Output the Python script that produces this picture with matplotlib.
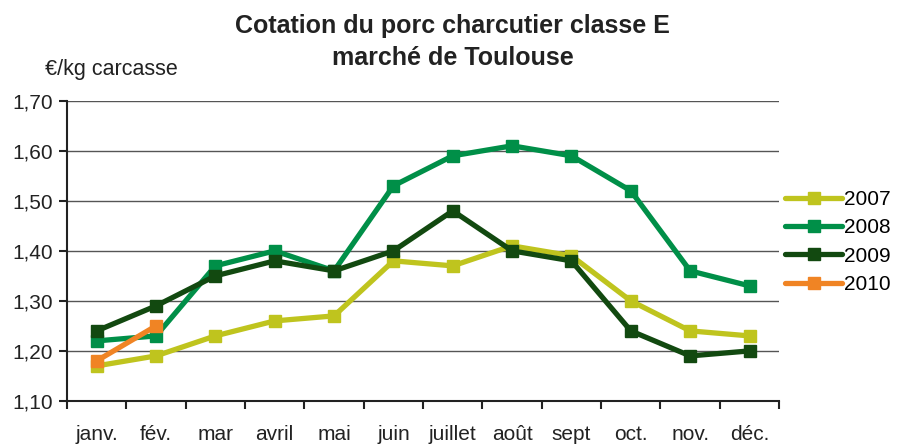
import matplotlib.pyplot as plt
import numpy as np
from matplotlib.ticker import FuncFormatter, FixedLocator

plt.rcParams['font.family'] = ['Liberation Sans', 'DejaVu Sans']

mois = ['janv.', 'fév.', 'mar', 'avril', 'mai', 'juin', 'juillet', 'août', 'sept', 'oct.', 'nov.', 'déc.']
v2007 = [1.17, 1.19, 1.23, 1.26, 1.27, 1.38, 1.37, 1.41, 1.39, 1.30, 1.24, 1.23]
v2008 = [1.22, 1.23, 1.37, 1.40, 1.36, 1.53, 1.59, 1.61, 1.59, 1.52, 1.36, 1.33]
v2009 = [1.24, 1.29, 1.35, 1.38, 1.36, 1.40, 1.48, 1.40, 1.38, 1.24, 1.19, 1.20]
v2010 = [1.18, 1.25]

fig = plt.figure(figsize=(9.05, 4.44), dpi=100)
ax = fig.add_axes([0.074, 0.097, 0.787, 0.676])

x = np.arange(len(mois))
series = [('2007', v2007, '#BFC41E'), ('2008', v2008, '#008F48'),
          ('2009', v2009, '#124910'), ('2010', v2010, '#F08424')]
for lab, vals, col in series:
    ax.plot(x[:len(vals)], vals, color=col, lw=3.8, marker='s', ms=9,
            label=lab, solid_capstyle='round')

ax.set_xlim(-0.5, 11.5)
ax.set_ylim(1.10, 1.70)
ax.set_yticks(np.arange(1.10, 1.71, 0.10))
ax.yaxis.set_major_formatter(FuncFormatter(lambda v, p: f'{v:.2f}'.replace('.', ',')))
ax.set_xticks(x)
ax.set_xticklabels(mois)
ax.xaxis.set_minor_locator(FixedLocator(np.arange(-0.5, 12, 1)))
ax.tick_params(axis='x', which='major', length=0, pad=17, labelsize=15, colors='#222222')
ax.tick_params(axis='x', which='minor', length=6, width=1.5, color='#222222', direction='out')
ax.tick_params(axis='y', length=6, width=1.5, color='#222222', labelsize=15,
               labelcolor='#222222', pad=4)

ax.grid(axis='y', color='#555555', lw=1)
ax.set_axisbelow(True)
for s in ['top', 'right']:
    ax.spines[s].set_visible(False)
for s in ['left', 'bottom']:
    ax.spines[s].set_color('#222222')
    ax.spines[s].set_linewidth(1.5)

fig.text(0.5, 0.968, 'Cotation du porc charcutier classe E\nmarché de Toulouse',
         ha='center', va='top', fontsize=18, fontweight='bold', color='#222222',
         linespacing=1.42)
fig.text(0.05, 0.83, '€/kg carcasse', fontsize=15.5, color='#222222')

ax.legend(loc='center left', bbox_to_anchor=(1.008, 0.53), frameon=False,
          fontsize=15, handlelength=2.75, handletextpad=0.1, labelspacing=0.45,
          borderaxespad=0, borderpad=0)

fig.savefig('out.png', dpi=100)
